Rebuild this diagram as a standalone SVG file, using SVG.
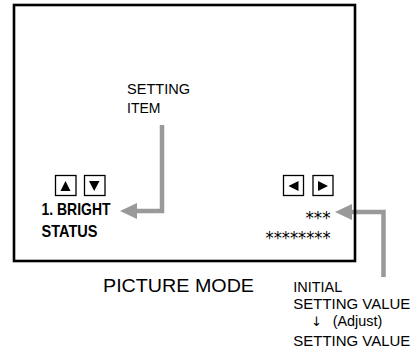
<svg xmlns="http://www.w3.org/2000/svg" width="417" height="352" viewBox="0 0 417 352">
<style>
.t{font-family:"Liberation Sans",Arial,sans-serif;fill:#000}
.b{font-weight:bold}
.ast{font-family:"DejaVu Sans",sans-serif;fill:#000}
.conn{fill:none;stroke:#999;stroke-width:4.5}
.head{fill:#999}
.key{fill:#fff;stroke:#000;stroke-width:1.3}
</style>
<rect width="417" height="352" fill="#fff"/>
<g id="connectors">
<path class="conn" d="M162,125 V211 H134"/>
<path class="head" d="M120,211 L137,203 L137,219 Z"/>
<path class="conn" d="M383.5,277 V212 H350"/>
<path class="head" d="M335,212 L352,204 L352,220 Z"/>
</g>
<g id="screen">
<rect x="14" y="5" width="341" height="256" fill="none" stroke="#000" stroke-width="2.6"/>
</g>
<g id="setting-item">
<text class="t" x="127" y="94" font-size="14" textLength="63" lengthAdjust="spacingAndGlyphs">SETTING</text>
<text class="t" x="127" y="112.5" font-size="14">ITEM</text>
</g>
<g id="updown-keys">
<rect class="key" x="55.5" y="175.5" width="20.5" height="20"/>
<path d="M60.5,191 L65.5,181 L70.5,191 Z" fill="#000"/>
<rect class="key" x="84.5" y="175.5" width="20.5" height="20"/>
<path d="M89,181 L99.5,181 L94.2,191 Z" fill="#000"/>
</g>
<g id="item-label">
<text class="t b" x="41.5" y="215" font-size="17" textLength="69" lengthAdjust="spacingAndGlyphs">1. BRIGHT</text>
<text class="t b" x="41.5" y="237" font-size="17" textLength="56" lengthAdjust="spacingAndGlyphs">STATUS</text>
</g>
<g id="leftright-keys">
<rect class="key" x="283.5" y="175.5" width="20" height="20"/>
<path d="M288.5,186 L298.5,181 L298.5,191 Z" fill="#000"/>
<rect class="key" x="313" y="175.5" width="20" height="20"/>
<path d="M318,181 L328,186 L318,191 Z" fill="#000"/>
</g>
<g id="values">
<text class="ast" x="330.5" y="223.5" font-size="18" text-anchor="end" textLength="25" lengthAdjust="spacingAndGlyphs">***</text>
<text class="ast" x="330.5" y="243.5" font-size="18" text-anchor="end" textLength="65" lengthAdjust="spacingAndGlyphs">********</text>
</g>
<g id="title">
<text class="t" x="103" y="291.5" font-size="18.6" textLength="151" lengthAdjust="spacingAndGlyphs">PICTURE MODE</text>
</g>
<g id="value-note">
<text class="t" x="293.3" y="292" font-size="14.5" textLength="49" lengthAdjust="spacingAndGlyphs">INITIAL</text>
<text class="t" x="293.3" y="309.3" font-size="14.5" textLength="117" lengthAdjust="spacingAndGlyphs">SETTING VALUE</text>
<text class="ast" x="311" y="326" font-size="13">↓</text>
<text class="t" x="332.7" y="326" font-size="14.5" textLength="49.6" lengthAdjust="spacingAndGlyphs">(Adjust)</text>
<text class="t" x="293.3" y="346" font-size="14.5" textLength="117" lengthAdjust="spacingAndGlyphs">SETTING VALUE</text>
</g>
</svg>
